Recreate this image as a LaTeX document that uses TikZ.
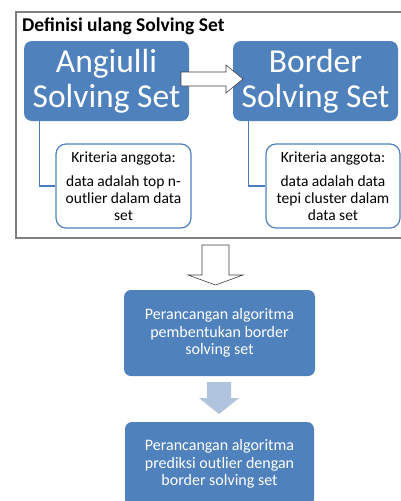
\documentclass[tikz,border=0pt]{standalone}
\usepackage{fontspec}
\setmainfont{Carlito}
\definecolor{boxblue}{HTML}{4F81BD}
\definecolor{lineblue}{HTML}{4A7EBB}
\definecolor{arrowlight}{HTML}{B0C4DE}
\definecolor{framegray}{HTML}{7F7F7F}
\begin{document}
\begin{tikzpicture}[x=1pt,y=-1pt,
  bigbox/.style={fill=boxblue, draw=none, rounded corners=8pt, text=white, align=center, inner sep=0pt,
    minimum width=165pt, minimum height=80pt, font=\fontsize{33.5}{35}\selectfont},
  subbox/.style={fill=white, draw=boxblue, line width=1.2pt, rounded corners=10pt, text=black, align=center, inner sep=0pt,
    minimum height=84pt, font=\fontsize{15.5}{17}\selectfont},
  stepbox/.style={fill=boxblue, draw=none, rounded corners=7pt, text=white, align=center, inner sep=0pt,
    minimum height=86pt, font=\fontsize{16}{17.5}\selectfont},
  conn/.style={draw=lineblue, line width=1.1pt},
  hollow/.style={fill=white, draw=black!75, line width=0.6pt},
  lightarrow/.style={fill=arrowlight, draw=none}]
\useasboundingbox (0,0) rectangle (401,501);
\clip (0,0) rectangle (401,501);
% frame
\draw[framegray, line width=1.2pt] (16,12) rectangle (430,238);
\node[anchor=base west, inner sep=0pt, font=\bfseries\fontsize{19.5}{22}\selectfont] (title) at (22,31) {Definisi ulang Solving Set};
% big boxes
\node[bigbox] (ang) at (106.5,81) {Angiulli\\Solving Set};
\node[bigbox] (bor) at (315.5,81) {Border\\Solving Set};
% sub boxes
\node[subbox, minimum width=135pt] (k1) at (123.5,186)
  {Kriteria anggota:\\[7pt]data adalah top n-\\outlier dalam data\\set};
\node[subbox, minimum width=134pt] (k2) at (333,186)
  {Kriteria anggota:\\[7pt]data adalah data\\tepi cluster dalam\\data set};
% connectors
\draw[conn] ([xshift=16pt]ang.south west) |- (k1.west);
\draw[conn] ([xshift=16pt]bor.south west) |- (k2.west);
% hollow right arrow
\draw[hollow] (181,72) -- (226,72) -- (226,65) -- (243,79) -- (226,93) -- (226,86) -- (181,86) -- cycle;
% step boxes
\node[stepbox, minimum width=191pt] (s1) at (219.5,333)
  {Perancangan algoritma\\pembentukan border\\solving set};
\node[stepbox, minimum width=189pt, minimum height=84pt] (s2) at (219.5,464)
  {Perancangan algoritma\\prediksi outlier dengan\\border solving set};
% hollow down arrow
\draw[hollow] (202,245) -- (229,245) -- (229,275) -- (243,275) -- (215.5,285) -- (188,275) -- (202,275) -- cycle;
% light arrow
\fill[lightarrow] (207,382) -- (231,382) -- (231,398) -- (239,398) -- (219,414) -- (199,398) -- (207,398) -- cycle;
\end{tikzpicture}
\end{document}
